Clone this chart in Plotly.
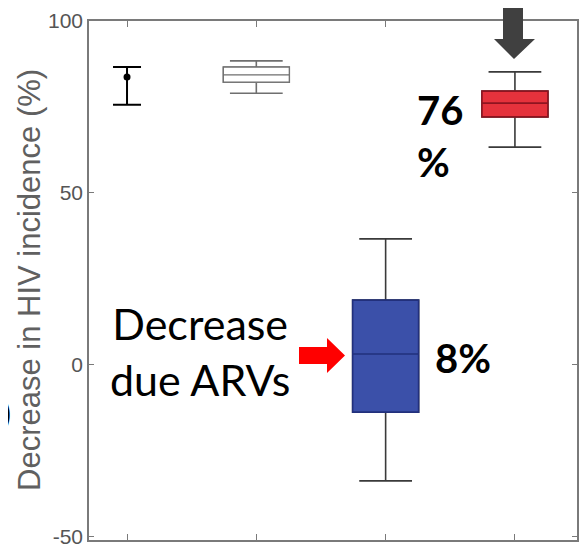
import plotly.graph_objects as go

# ---------------- data ----------------
positions = [1, 2, 3, 4]
# group 1 drawn as point + range
g1_point = [83.7]
g1_low = [75.6]
g1_high = [86.6]
# box groups: white (pos 2), blue (pos 3), red (pos 4)
box_pos = [2, 3, 4]
box_lower = [79.0, -33.8, 63.3]
box_q1 = [82.2, -13.8, 72.1]
box_median = [84.3, 3.1, 76.1]
box_q3 = [86.6, 18.8, 79.6]
box_upper = [88.4, 36.6, 85.2]
box_fill = ["#ffffff", "#3b50a9", "#e5323c"]
box_edge = ["#6f6f6f", "#22307c", "#8e1420"]
y_ticks = [-50, 0, 50, 100]
y_ticktext = ["-50", "0", "50", "100"]
y_title = "Decrease in HIV incidence (%)"
label_arv = "Decrease<br>due ARVs"
label_8 = "8%"
label_76 = "76<br>%"

# ---------------- geometry helpers ----------------
W, H = 588, 556
OFF = 8  # default page body margin
L, R, T, B = 89, 577, 21, 540


def px(x):
    return (x - L) / (R - L)


def py(y):
    return (B - y) / (B - T)


def path(points):
    s = "M " + " L ".join(f"{px(a):.5f},{py(b):.5f}" for a, b in points) + " Z"
    return s


fig = go.Figure()

# group 1: point with range bars
fig.add_trace(go.Scatter(
    x=[positions[0]], y=g1_point, mode="markers",
    marker=dict(color="black", size=7),
    error_y=dict(type="data", symmetric=False,
                 array=[g1_high[0] - g1_point[0]],
                 arrayminus=[g1_point[0] - g1_low[0]],
                 color="black", thickness=2, width=14),
    showlegend=False, hoverinfo="skip"))

for i, p in enumerate(box_pos):
    whisk = "#6f6f6f" if i == 0 else "#3a3a3a"
    # full box with whiskers
    fig.add_trace(go.Box(
        x=[p], q1=[box_q1[i]], median=[box_median[i]], q3=[box_q3[i]],
        lowerfence=[box_lower[i]], upperfence=[box_upper[i]],
        width=0.51, whiskerwidth=0.8, fillcolor=box_fill[i],
        line=dict(color=whisk, width=1.6), showlegend=False,
        hoverinfo="skip", boxpoints=False))
    # box body overlay (own edge/median colour)
    fig.add_trace(go.Box(
        x=[p], q1=[box_q1[i]], median=[box_median[i]], q3=[box_q3[i]],
        lowerfence=[box_q1[i]], upperfence=[box_q3[i]],
        width=0.51, whiskerwidth=0, fillcolor=box_fill[i],
        line=dict(color=box_edge[i], width=1.6 if i else 1.2),
        showlegend=False, hoverinfo="skip", boxpoints=False))

# arrows
red_arrow = [(299, 347), (327, 347), (327, 338), (345, 355.5), (327, 373), (327, 364), (299, 364)]
gray_arrow = [(503, 0), (523, 0), (523, 39), (535, 39), (514, 59), (494, 39), (503, 39)]
fig.add_shape(type="path", xref="paper", yref="paper", path=path(red_arrow),
              fillcolor="#ff0000", line=dict(width=0), layer="above")
fig.add_shape(type="path", xref="paper", yref="paper", path=path(gray_arrow),
              fillcolor="#404040", line=dict(width=0), layer="above")

ann_font = "Lato, Carlito, Calibri, sans-serif"
fig.add_annotation(text=label_arv, xref="paper", yref="paper", x=px(200), y=py(351),
                   xanchor="center", yanchor="middle", showarrow=False, align="center",
                   font=dict(family=ann_font, size=43, color="black"))
fig.add_annotation(text=label_8, xref="paper", yref="paper", x=px(463), y=py(358),
                   xanchor="center", yanchor="middle", showarrow=False,
                   font=dict(family=ann_font, size=40, color="black", weight="bold"))
fig.add_annotation(text=label_76, xref="paper", yref="paper", x=px(415), y=py(136),
                   xanchor="left", yanchor="middle", showarrow=False, align="left",
                   font=dict(family=ann_font, size=40, color="black", weight="bold"))
fig.add_annotation(text=")", xref="paper", yref="paper", x=px(13), y=py(412),
                   xanchor="right", yanchor="middle", showarrow=False,
                   font=dict(family=ann_font, size=32, color="black", weight="bold"))
# y-axis title
fig.add_annotation(text=y_title, xref="paper", yref="paper", x=px(29), y=py(280),
                   xanchor="center", yanchor="middle", textangle=-90, showarrow=False,
                   font=dict(family="Liberation Sans, Arial, sans-serif", size=31, color="#606060"))

axis_common = dict(showline=True, linecolor="#7a7a7a", linewidth=1.6, mirror="ticks",
                   ticks="inside", tickcolor="#7a7a7a", showgrid=False, zeroline=False)
fig.update_xaxes(range=[0.706, 4.48], tickvals=positions, ticklen=6,
                 showticklabels=False, **axis_common)
fig.update_yaxes(range=[-51, 100], tickvals=y_ticks, ticktext=y_ticktext, ticklen=5,
                 tickfont=dict(family="Liberation Sans, Arial, sans-serif", size=21, color="#555555"),
                 **axis_common)

fig.update_layout(width=W - OFF, height=H - OFF, boxmode="overlay",
                  margin=dict(l=L - OFF, r=W - R, t=T - OFF, b=H - B, autoexpand=False),
                  paper_bgcolor="white", plot_bgcolor="white", showlegend=False)

fig.write_html("out.html")
